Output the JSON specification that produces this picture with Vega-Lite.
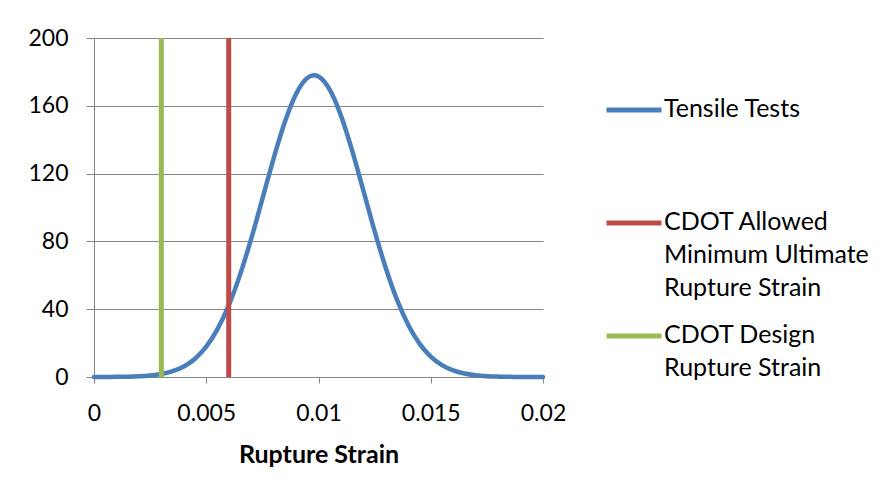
{
  "$schema": "https://vega.github.io/schema/vega-lite/v6.json",
  "width": 449,
  "height": 339,
  "autosize": {"type": "none"},
  "padding": {"left": 94, "top": 38, "right": 342, "bottom": 120},
  "background": "white",
  "config": {
    "font": "Lato",
    "view": {"stroke": null},
    "axis": {
      "labelFont": "Lato",
      "labelFontSize": 23,
      "labelColor": "#000000",
      "domainColor": "#868686",
      "tickColor": "#868686",
      "gridColor": "#868686",
      "titleFont": "Lato",
      "titleColor": "#000000"
    }
  },
  "layer": [
    {
      "data": {
        "values": [
          {"strain": 0, "freq": 0.01, "series": "Tensile Tests"},
          {"strain": 0.0005, "freq": 0.03, "series": "Tensile Tests"},
          {"strain": 0.001, "freq": 0.08, "series": "Tensile Tests"},
          {"strain": 0.0015, "freq": 0.19, "series": "Tensile Tests"},
          {"strain": 0.002, "freq": 0.41, "series": "Tensile Tests"},
          {"strain": 0.0025, "freq": 0.88, "series": "Tensile Tests"},
          {"strain": 0.003, "freq": 1.77, "series": "Tensile Tests"},
          {"strain": 0.0035, "freq": 3.41, "series": "Tensile Tests"},
          {"strain": 0.004, "freq": 6.23, "series": "Tensile Tests"},
          {"strain": 0.0045, "freq": 10.8, "series": "Tensile Tests"},
          {"strain": 0.005, "freq": 17.9, "series": "Tensile Tests"},
          {"strain": 0.0055, "freq": 28.2, "series": "Tensile Tests"},
          {"strain": 0.006, "freq": 42.2, "series": "Tensile Tests"},
          {"strain": 0.0065, "freq": 60.1, "series": "Tensile Tests"},
          {"strain": 0.007, "freq": 81.5, "series": "Tensile Tests"},
          {"strain": 0.0075, "freq": 105.1, "series": "Tensile Tests"},
          {"strain": 0.008, "freq": 128.9, "series": "Tensile Tests"},
          {"strain": 0.0085, "freq": 150.4, "series": "Tensile Tests"},
          {"strain": 0.009, "freq": 167.0, "series": "Tensile Tests"},
          {"strain": 0.0095, "freq": 176.4, "series": "Tensile Tests"},
          {"strain": 0.0098, "freq": 178.0, "series": "Tensile Tests"},
          {"strain": 0.01, "freq": 177.3, "series": "Tensile Tests"},
          {"strain": 0.0105, "freq": 169.5, "series": "Tensile Tests"},
          {"strain": 0.011, "freq": 154.2, "series": "Tensile Tests"},
          {"strain": 0.0115, "freq": 133.5, "series": "Tensile Tests"},
          {"strain": 0.012, "freq": 109.9, "series": "Tensile Tests"},
          {"strain": 0.0125, "freq": 86.1, "series": "Tensile Tests"},
          {"strain": 0.013, "freq": 64.2, "series": "Tensile Tests"},
          {"strain": 0.0135, "freq": 45.5, "series": "Tensile Tests"},
          {"strain": 0.014, "freq": 30.7, "series": "Tensile Tests"},
          {"strain": 0.0145, "freq": 19.7, "series": "Tensile Tests"},
          {"strain": 0.015, "freq": 12.0, "series": "Tensile Tests"},
          {"strain": 0.0155, "freq": 7.0, "series": "Tensile Tests"},
          {"strain": 0.016, "freq": 3.86, "series": "Tensile Tests"},
          {"strain": 0.0165, "freq": 2.03, "series": "Tensile Tests"},
          {"strain": 0.017, "freq": 1.02, "series": "Tensile Tests"},
          {"strain": 0.0175, "freq": 0.48, "series": "Tensile Tests"},
          {"strain": 0.018, "freq": 0.22, "series": "Tensile Tests"},
          {"strain": 0.0185, "freq": 0.09, "series": "Tensile Tests"},
          {"strain": 0.019, "freq": 0.04, "series": "Tensile Tests"},
          {"strain": 0.0195, "freq": 0.02, "series": "Tensile Tests"},
          {"strain": 0.02, "freq": 0.01, "series": "Tensile Tests"}
        ]
      },
      "mark": {"type": "line", "strokeWidth": 4.5, "interpolate": "monotone", "strokeCap": "round"},
      "encoding": {
        "x": {
          "field": "strain",
          "type": "quantitative",
          "scale": {"domain": [0, 0.02], "nice": false, "zero": false},
          "axis": {
            "title": "Rupture Strain",
            "titleFontSize": 25,
            "titleFontWeight": "bold",
            "titlePadding": 17,
            "values": [0, 0.005, 0.01, 0.015, 0.02],
            "format": "~g",
            "grid": false,
            "tickSize": 6,
            "labelPadding": 19,
            "labelFlush": false
          }
        },
        "y": {
          "field": "freq",
          "type": "quantitative",
          "scale": {"domain": [0, 200], "nice": false},
          "axis": {
            "title": null,
            "values": [0, 40, 80, 120, 160, 200],
            "grid": true,
            "tickSize": 8,
            "labelPadding": 18,
            "domain": true
          }
        },
        "color": {
          "field": "series",
          "type": "nominal",
          "scale": {
            "domain": ["Tensile Tests", "CDOT Allowed Minimum Ultimate Rupture Strain", "CDOT Design Rupture Strain"],
            "range": ["#4A7EBB", "#BE4B48", "#98B954"]
          },
          "legend": {
            "title": null,
            "orient": "none",
            "legendX": 510,
            "legendY": 42,
            "symbolType": "stroke",
            "symbolSize": 3025,
            "symbolStrokeWidth": 5,
            "labelFontSize": 25,
            "labelFont": "Lato",
            "labelColor": "#000000",
            "labelOffset": 0,
            "labelLimit": 400,
            "labelBaseline": "top",
            "gridAlign": "all",
            "rowPadding": 5,
            "labelExpr": "datum.label == 'CDOT Allowed Minimum Ultimate Rupture Strain' ? ['CDOT Allowed', 'Minimum Ultimate', 'Rupture Strain'] : datum.label == 'CDOT Design Rupture Strain' ? ['CDOT Design', 'Rupture Strain', ''] : [datum.label, '', '']",
            "encode": {
              "labels": {
                "update": {
                  "lineHeight": {"value": 33},
                  "dy": {"value": -13}
                }
              }
            }
          }
        }
      }
    },
    {
      "data": {
        "values": [
          {"strain": 0.006, "series": "CDOT Allowed Minimum Ultimate Rupture Strain"},
          {"strain": 0.003, "series": "CDOT Design Rupture Strain"}
        ]
      },
      "mark": {"type": "rule", "strokeWidth": 5},
      "encoding": {
        "x": {"field": "strain", "type": "quantitative"},
        "color": {"field": "series", "type": "nominal"}
      }
    }
  ]
}
